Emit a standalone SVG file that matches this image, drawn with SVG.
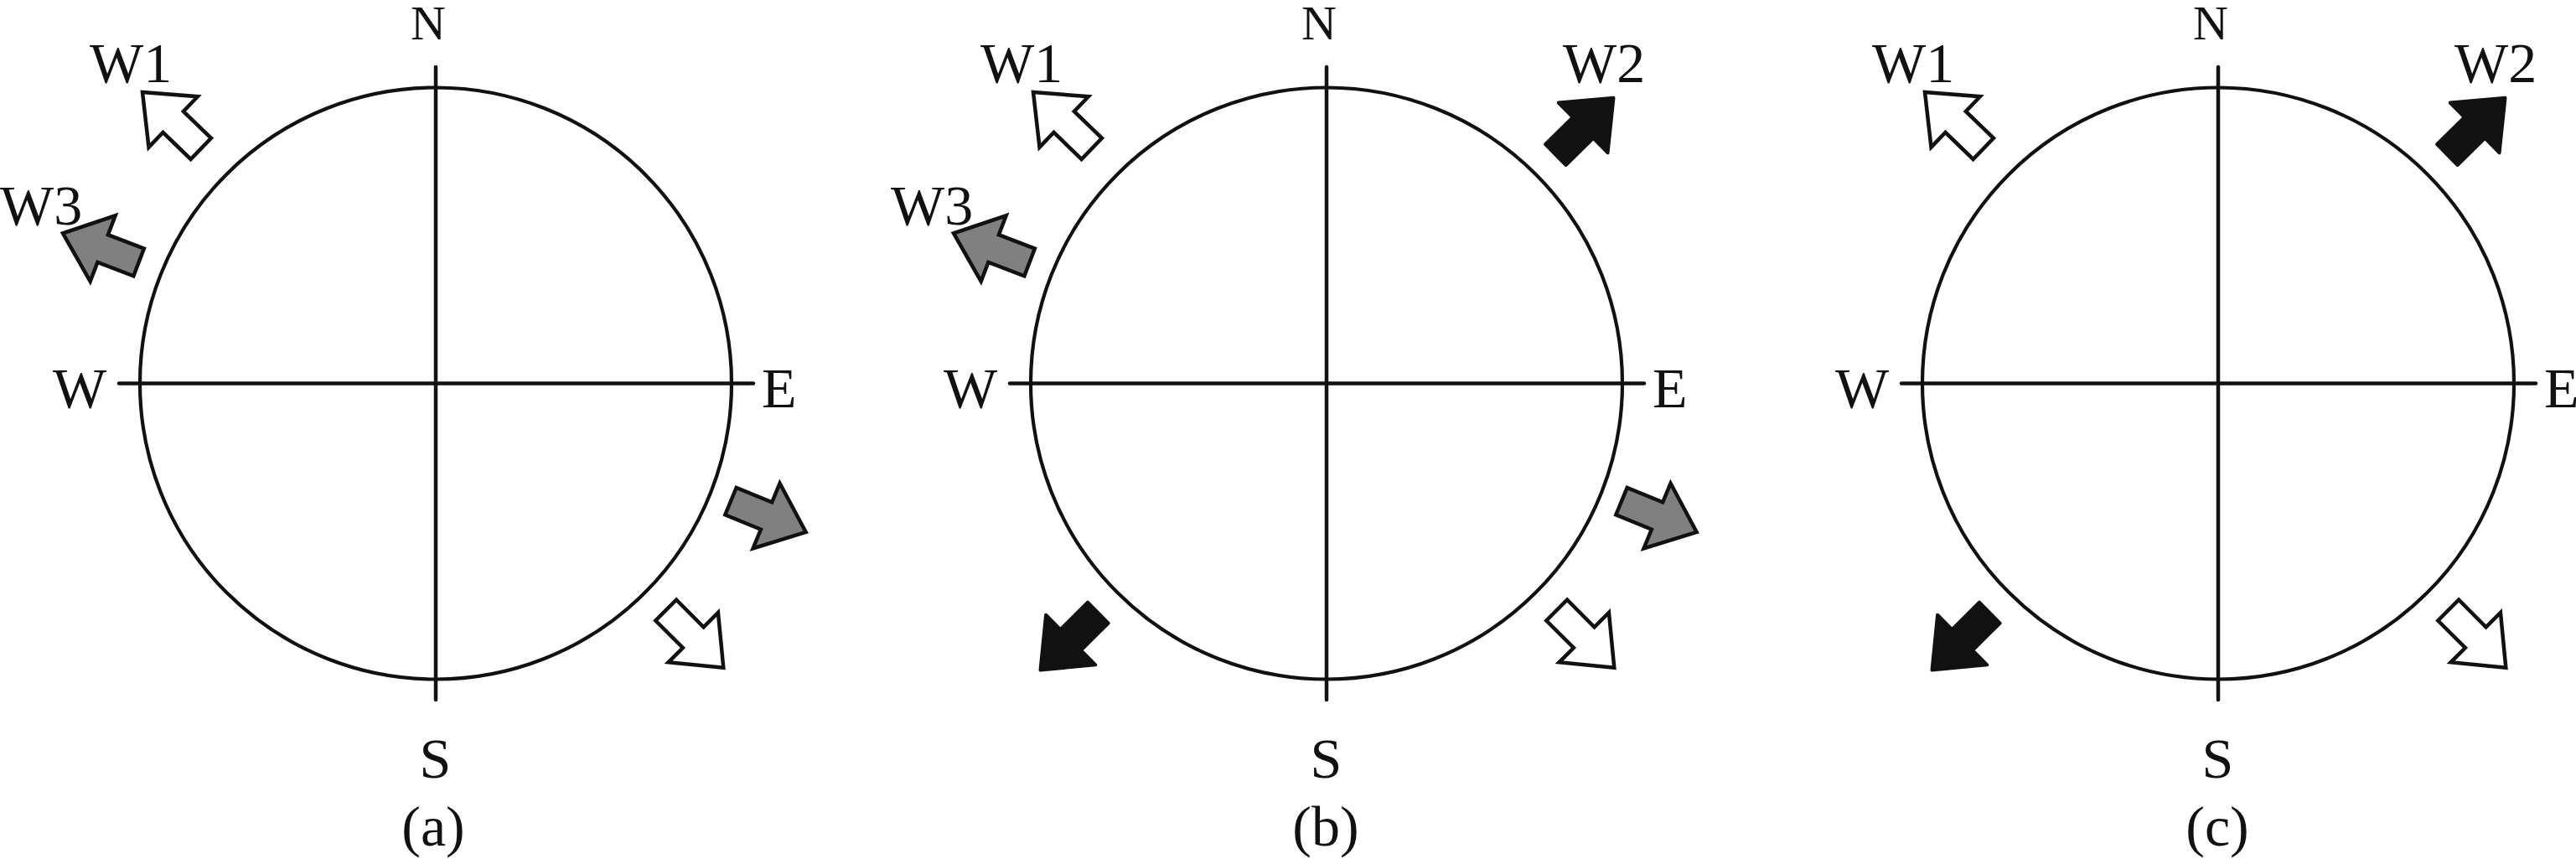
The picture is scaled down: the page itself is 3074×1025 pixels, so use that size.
<svg xmlns="http://www.w3.org/2000/svg" xmlns:xlink="http://www.w3.org/1999/xlink" width="3074" height="1025" viewBox="0 0 3074 1025">
  <style>
    .ring{fill:none;stroke:#111;stroke-width:4.2}
    .axis{stroke:#111;stroke-width:4.5;stroke-linecap:round}
    .lbl{font-family:"Liberation Serif","Times New Roman",serif;font-size:68px;fill:#111}
    .n{font-size:58px}
    .white{fill:#fff;stroke:#111;stroke-width:4.5;stroke-linejoin:miter}
    .gray{fill:#808080;stroke:#111;stroke-width:4.5;stroke-linejoin:miter}
    .black{fill:#111;stroke:#111;stroke-width:4;stroke-linejoin:round}
  </style>
  <defs>
    <path id="arrow" d="M0,0 L-51,-42 L-51,-17.5 L-97,-17.5 L-97,17.5 L-51,17.5 L-51,42 Z"/>
  </defs>
  <rect width="3074" height="1025" fill="#fff"/>

  <!-- Panel (a) -->
  <g id="panel-a">
    <g id="a-compass">
      <circle class="ring" cx="520" cy="457.5" r="353"/>
    </g>
    <g id="a-axes">
      <line class="axis" x1="142" y1="457.5" x2="899" y2="457.5"/>
      <line class="axis" x1="520" y1="80" x2="520" y2="835"/>
    </g>
    <g id="a-labels">
      <text class="lbl n" x="511" y="47" text-anchor="middle">N</text>
      <text class="lbl" x="519.5" y="928" text-anchor="middle">S</text>
      <text class="lbl" x="63" y="486">W</text>
      <text class="lbl" x="909" y="486">E</text>
      <text class="lbl" x="517" y="1009" text-anchor="middle">(a)</text>
    </g>
    <g id="a-W1">
      <text class="lbl" x="107" y="98">W1</text>
      <use xlink:href="#arrow" class="white" transform="translate(170,110) rotate(224)"/>
    </g>
    <g id="a-W3">
      <text class="lbl" x="0" y="268">W3</text>
      <use xlink:href="#arrow" class="gray" transform="translate(75,278.3) rotate(200.9)"/>
    </g>
    <g id="a-W3-out">
      <use xlink:href="#arrow" class="gray" transform="translate(961.7,635) rotate(22.4)"/>
    </g>
    <g id="a-W1-out">
      <use xlink:href="#arrow" class="white" transform="translate(863.3,796.7) rotate(45)"/>
    </g>
  </g>

  <!-- Panel (b) -->
  <g id="panel-b" transform="translate(1063,0)">
    <g id="b-compass">
      <circle class="ring" cx="520" cy="457.5" r="353"/>
    </g>
    <g id="b-axes">
      <line class="axis" x1="142" y1="457.5" x2="899" y2="457.5"/>
      <line class="axis" x1="520" y1="80" x2="520" y2="835"/>
    </g>
    <g id="b-labels">
      <text class="lbl n" x="511" y="47" text-anchor="middle">N</text>
      <text class="lbl" x="519.5" y="928" text-anchor="middle">S</text>
      <text class="lbl" x="63" y="486">W</text>
      <text class="lbl" x="909" y="486">E</text>
      <text class="lbl" x="519" y="1009" text-anchor="middle">(b)</text>
    </g>
    <g id="b-W1">
      <text class="lbl" x="107" y="98">W1</text>
      <use xlink:href="#arrow" class="white" transform="translate(170,110) rotate(224)"/>
    </g>
    <g id="b-W3">
      <text class="lbl" x="0" y="268">W3</text>
      <use xlink:href="#arrow" class="gray" transform="translate(75,278.3) rotate(200.9)"/>
    </g>
    <g id="b-W2">
      <text class="lbl" x="802" y="98">W2</text>
      <use xlink:href="#arrow" class="black" transform="translate(862.5,116.7) rotate(-44.5)"/>
    </g>
    <g id="b-W3-out">
      <use xlink:href="#arrow" class="gray" transform="translate(961.7,635) rotate(22.4)"/>
    </g>
    <g id="b-W1-out">
      <use xlink:href="#arrow" class="white" transform="translate(863.3,796.7) rotate(45)"/>
    </g>
    <g id="b-W2-out">
      <use xlink:href="#arrow" class="black" transform="translate(178.5,799.5) rotate(135.2)"/>
    </g>
  </g>

  <!-- Panel (c) -->
  <g id="panel-c" transform="translate(2127,0)">
    <g id="c-compass">
      <circle class="ring" cx="520" cy="457.5" r="353"/>
    </g>
    <g id="c-axes">
      <line class="axis" x1="142" y1="457.5" x2="899" y2="457.5"/>
      <line class="axis" x1="520" y1="80" x2="520" y2="835"/>
    </g>
    <g id="c-labels">
      <text class="lbl n" x="511" y="47" text-anchor="middle">N</text>
      <text class="lbl" x="519.5" y="928" text-anchor="middle">S</text>
      <text class="lbl" x="63" y="486">W</text>
      <text class="lbl" x="909" y="486">E</text>
      <text class="lbl" x="519" y="1009" text-anchor="middle">(c)</text>
    </g>
    <g id="c-W1">
      <text class="lbl" x="107" y="98">W1</text>
      <use xlink:href="#arrow" class="white" transform="translate(170,110) rotate(224)"/>
    </g>
    <g id="c-W2">
      <text class="lbl" x="802" y="98">W2</text>
      <use xlink:href="#arrow" class="black" transform="translate(862.5,116.7) rotate(-44.5)"/>
    </g>
    <g id="c-W1-out">
      <use xlink:href="#arrow" class="white" transform="translate(863.3,796.7) rotate(45)"/>
    </g>
    <g id="c-W2-out">
      <use xlink:href="#arrow" class="black" transform="translate(178.5,799.5) rotate(135.2)"/>
    </g>
  </g>
</svg>
